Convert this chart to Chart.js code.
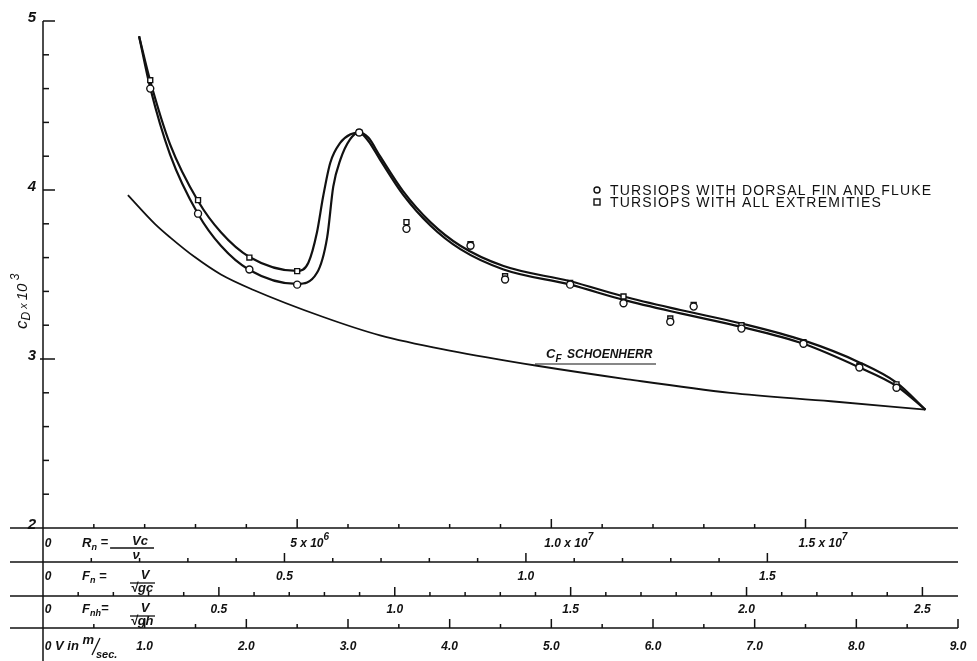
<!DOCTYPE html>
<html lang="en">
  <head>
    <meta charset="UTF-8" />
    <title>Tursiops drag coefficient</title>
    <script src="https://cdn.jsdelivr.net/npm/chart.js@4"></script>
    <style>
      html, body { margin: 0; padding: 0; background: #fff; }
      #wrap { width: 977px; height: 661px; }
    </style>
  </head>
  <body>
    <div id="wrap"><canvas id="chart" width="977" height="661"></canvas></div>
    <script>
      // Rn in millions (Rn = Vc/nu), drag as C_D x 10^3
      const rnMeasured = [2.11, 3.05, 4.06, 5.0, 6.22, 7.15, 8.41, 9.09, 10.37, 11.42, 12.34, 12.8, 13.74, 14.96, 16.06, 16.79]
      const cdDorsalFluke = [4.60, 3.86, 3.53, 3.44, 4.34, 3.77, 3.67, 3.47, 3.44, 3.33, 3.22, 3.31, 3.18, 3.09, 2.95, 2.83]
      const cdAllExtremities = [4.65, 3.94, 3.60, 3.52, 4.34, 3.81, 3.68, 3.49, 3.45, 3.37, 3.24, 3.32, 3.20, 3.10, 2.96, 2.85]

      // faired curves through the two sets of points
      const rnUpperCurve = [1.89, 2.11, 2.5, 3.05, 3.5, 4.06, 5.0, 5.22, 5.39, 5.51, 5.65, 5.85, 6.05, 6.22, 6.4, 6.63, 7.09, 7.62, 8.21, 9.06, 10.37, 11.42, 12.54, 13.74, 14.96, 16.06, 16.79, 17.36]
      const cdUpperCurve = [4.91, 4.645, 4.27, 3.935, 3.75, 3.604, 3.521, 3.57, 3.75, 3.96, 4.16, 4.28, 4.33, 4.34, 4.31, 4.20, 3.99, 3.81, 3.67, 3.55, 3.46, 3.37, 3.29, 3.21, 3.11, 2.98, 2.86, 2.70]
      const rnLowerCurve = [1.89, 2.11, 2.5, 3.05, 3.5, 4.06, 5.0, 5.39, 5.59, 5.71, 5.85, 6.04, 6.22, 6.4, 6.63, 7.09, 7.62, 8.21, 9.06, 10.37, 11.42, 12.54, 13.74, 14.96, 16.06, 16.79, 17.36]
      const cdLowerCurve = [4.91, 4.604, 4.21, 3.858, 3.67, 3.527, 3.444, 3.51, 3.72, 4.02, 4.18, 4.30, 4.34, 4.29, 4.18, 3.97, 3.79, 3.65, 3.53, 3.44, 3.35, 3.27, 3.19, 3.09, 2.95, 2.84, 2.70]

      // C_F Schoenherr flat plate line
      const rnSchoenherr = [1.67, 2.2, 2.5, 3.0, 3.5, 4.13, 5.5, 6.63, 8.0, 9.72, 11.5, 13.52, 15.5, 17.36]
      const cfSchoenherr = [3.97, 3.80, 3.72, 3.60, 3.50, 3.41, 3.25, 3.14, 3.05, 2.96, 2.88, 2.80, 2.75, 2.70]

      // y axis
      const cdLabels = ['2', '3', '4', '5']

      // bottom scales, all expressed in Rn (millions) per unit
      const rnPerVelocity = 2
      const rnPerFroude = 9.5
      const rnPerFroudeH = 6.92
      const rnTickCount = 15
      const fnTickCount = 15
      const fnhTickCount = 25
      const velocityTickCount = 18
      const rnLabelValues = [5, 10, 15]
      const rnLabelText = ['5 x 10', '1.0 x 10', '1.5 x 10']
      const rnLabelExp = ['6', '7', '7']
      const fnLabels = ['0.5', '1.0', '1.5']
      const fnhLabels = ['0.5', '1.0', '1.5', '2.0', '2.5']
      const velocityLabels = ['1.0', '2.0', '3.0', '4.0', '5.0', '6.0', '7.0', '8.0', '9.0']

      const seriesNames = ['TURSIOPS WITH DORSAL FIN AND FLUKE', 'TURSIOPS WITH ALL EXTREMITIES']

      const ink = '#111'
      const FAM = '"Liberation Sans", Arial, sans-serif'
      const toPoints = (xs, ys) => xs.map((x, i) => ({ x: x, y: ys[i] }))

      function line(ctx, x1, y1, x2, y2) {
        ctx.beginPath()
        ctx.moveTo(x1, y1)
        ctx.lineTo(x2, y2)
        ctx.stroke()
      }

      // left aligned text pieces, each with its own font and vertical shift
      function runs(ctx, x, y, parts) {
        ctx.textAlign = 'left'
        for (const [text, font, dy] of parts) {
          ctx.font = font
          ctx.fillText(text, x, y + dy)
          x += ctx.measureText(text).width
        }
        return x
      }

      function centered(ctx, text, x, y, font) {
        ctx.font = font
        ctx.textAlign = 'center'
        ctx.fillText(text, x, y)
      }

      const paperAxes = {
        id: 'paperAxes',
        afterDraw(chart) {
          const { ctx, chartArea: area, scales } = chart
          const px = v => scales.x.getPixelForValue(v)
          const py = v => scales.y.getPixelForValue(v)
          const lbl = 'italic bold 12px ' + FAM
          const sml = 'italic bold 9px ' + FAM
          ctx.save()
          ctx.strokeStyle = ink
          ctx.fillStyle = ink
          ctx.lineWidth = 1.5
          ctx.textBaseline = 'alphabetic'

          // y axis with inward ticks
          const x0 = area.left
          line(ctx, x0, py(5), x0, chart.height)
          for (let i = 1; i <= 15; i++) {
            const yy = py(2 + i * 0.2)
            const major = i % 5 === 0
            line(ctx, i === 5 ? x0 - 3 : x0, yy, x0 + (major ? 12 : 6), yy)
          }
          cdLabels.forEach(t => {
            ctx.font = 'italic bold 15px ' + FAM
            ctx.textAlign = 'right'
            ctx.fillText(t, x0 - 7, py(+t) + 1)
          })

          // y title, rotated
          ctx.save()
          ctx.translate(27, 329)
          ctx.rotate(-Math.PI / 2)
          runs(ctx, 0, 0, [
            ['c', 'italic 17px ' + FAM, 0],
            ['D', 'italic 12px ' + FAM, 3],
            [' x ', 'italic 11px ' + FAM, 0],
            ['10', 'italic 15px ' + FAM, 0],
            [' 3', 'italic 12px ' + FAM, -8],
          ])
          ctx.restore()

          // four scale rows under the plot
          const rows = [0, 34, 68, 100].map(d => area.bottom + d)
          rows.forEach(r => line(ctx, 10, r, px(18), r))
          const tick = (rn, row, big) => line(ctx, px(rn), row, px(rn), row - (big ? 9 : 4))
          for (let k = 1; k <= rnTickCount; k++) tick(k, rows[0], k % 5 === 0)
          for (let k = 1; k <= fnTickCount; k++) tick((k / 10) * rnPerFroude, rows[1], k % 5 === 0)
          for (let k = 1; k <= fnhTickCount; k++) tick((k / 10) * rnPerFroudeH, rows[2], k % 5 === 0)
          for (let k = 1; k <= velocityTickCount; k++) tick((k / 2) * rnPerVelocity, rows[3], k % 2 === 0)

          const base = [19, 52, 85, 122].map(d => area.bottom + d)
          base.forEach(b => centered(ctx, '0', x0 + 5, b, lbl))

          rnLabelValues.forEach((v, i) => {
            runs(ctx, px(v) - 7, base[0], [
              [rnLabelText[i], lbl, 0],
              [rnLabelExp[i], 'italic bold 10px ' + FAM, -7],
            ])
          })
          fnLabels.forEach(t => centered(ctx, t, px(+t * rnPerFroude), base[1], lbl))
          fnhLabels.forEach(t => centered(ctx, t, px(+t * rnPerFroudeH), base[2], lbl))
          velocityLabels.forEach(t => centered(ctx, t, px(+t * rnPerVelocity), base[3], lbl))

          // formulas in the rows
          const fml = 'italic bold 13px ' + FAM
          ctx.lineWidth = 1.3
          let xe = runs(ctx, 82, base[0], [['R', fml, 0], ['n', sml, 3], [' =', fml, -1]])
          line(ctx, xe + 2, base[0] + 1, 154, base[0] + 1)
          centered(ctx, 'Vc', 140, base[0] - 2, fml)
          centered(ctx, '\u03bd', 136, base[0] + 12, fml)

          xe = runs(ctx, 82, base[1], [['F', fml, 0], ['n', sml, 3], [' =', fml, 0]])
          line(ctx, 130, base[1] + 3, 155, base[1] + 3)
          centered(ctx, 'V', 145, base[1] - 1, fml)
          centered(ctx, '\u221agc', 142, base[1] + 12, fml)

          xe = runs(ctx, 82, base[2], [['F', fml, 0], ['nh', sml, 3], ['=', fml, -1]])
          line(ctx, 130, base[2] + 3, 155, base[2] + 3)
          centered(ctx, 'V', 145, base[2] - 1, fml)
          centered(ctx, '\u221agh', 142, base[2] + 12, fml)

          xe = runs(ctx, 55, base[3], [['V in ', fml, 0], ['m', fml, -6]])
          line(ctx, xe - 2, base[3] + 5, xe + 6, base[3] - 12)
          runs(ctx, xe + 2, base[3] + 8, [['sec.', 'italic bold 11px ' + FAM, 0]])

          // C_F Schoenherr label
          ctx.lineWidth = 1.2
          runs(ctx, 546, 358, [
            ['C', 'italic bold 13px ' + FAM, 0],
            ['F', 'italic bold 10px ' + FAM, 4],
          ])
          runs(ctx, 567, 358, [['SCHOENHERR', 'italic bold 12px ' + FAM, 0]])
          line(ctx, 535, 364, 656, 364)

          // legend
          ctx.lineWidth = 1.4
          ctx.beginPath()
          ctx.arc(597, 190, 3, 0, Math.PI * 2)
          ctx.stroke()
          ctx.strokeRect(594, 199, 6, 6)
          ctx.font = '14px ' + FAM
          if ('letterSpacing' in ctx) ctx.letterSpacing = '1.2px'
          ctx.textAlign = 'left'
          ctx.fillText(seriesNames[0], 610, 195)
          ctx.fillText(seriesNames[1], 610, 207)
          if ('letterSpacing' in ctx) ctx.letterSpacing = '0px'
          ctx.restore()
        },
      }

      const curve = (data, width) => ({
        data: data,
        showLine: true,
        borderColor: ink,
        borderWidth: width,
        pointRadius: 0,
        cubicInterpolationMode: 'monotone',
        fill: false,
        order: 2,
      })

      const marks = (data, style, r) => ({
        data: data,
        showLine: false,
        pointStyle: style,
        pointRadius: r,
        borderWidth: 1.4,
        pointBorderColor: ink,
        pointBackgroundColor: '#fff',
        order: 0,
      })

      new Chart(document.getElementById('chart'), {
        type: 'scatter',
        data: {
          datasets: [
            marks(toPoints(rnMeasured, cdDorsalFluke), 'circle', 3.5),
            marks(toPoints(rnMeasured, cdAllExtremities), 'rect', 3.5),
            curve(toPoints(rnUpperCurve, cdUpperCurve), 2.2),
            curve(toPoints(rnLowerCurve, cdLowerCurve), 2.2),
            curve(toPoints(rnSchoenherr, cfSchoenherr), 1.8),
          ],
        },
        options: {
          responsive: false,
          animation: false,
          devicePixelRatio: 1,
          layout: { padding: { left: 43, top: 21, right: 19, bottom: 133 } },
          scales: {
            x: { type: 'linear', min: 0, max: 18, display: false },
            y: { type: 'linear', min: 2, max: 5, display: false },
          },
          plugins: {
            legend: { display: false },
            tooltip: { enabled: false },
          },
        },
        plugins: [paperAxes],
      })
    </script>
  </body>
</html>
